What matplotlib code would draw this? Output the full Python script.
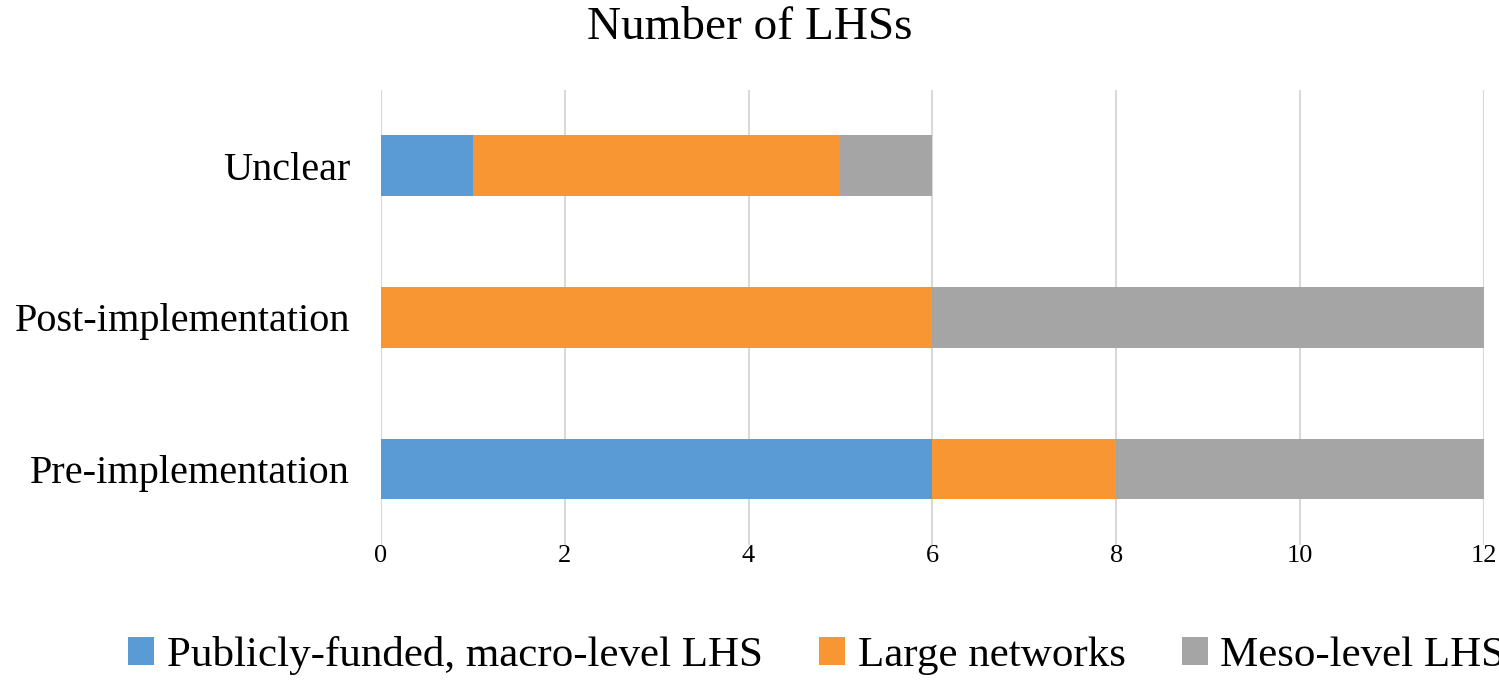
import matplotlib
matplotlib.use("Agg")
import matplotlib.pyplot as plt
import numpy as np

categories = ["Pre-implementation", "Post-implementation", "Unclear"]
publicly = [6, 0, 1]
large = [2, 6, 4]
meso = [4, 6, 1]
series_names = ["Publicly-funded, macro-level LHS", "Large networks", "Meso-level LHS"]
colors = ["#5B9BD5", "#F79633", "#A5A5A5"]

plt.rcParams['font.family'] = ['Liberation Serif', 'DejaVu Serif']
fig = plt.figure(figsize=(14.99, 6.8), dpi=100)
ax = fig.add_axes([0.254, 0.199, 0.736, 0.669])
y = np.arange(len(categories))
left = np.zeros(len(categories))
for vals, name, c in zip([publicly, large, meso], series_names, colors):
    ax.barh(y, vals, left=left, height=0.4, color=c, label=name, zorder=3)
    left += np.array(vals)
ax.set_xlim(0, 12)
ax.set_ylim(-0.5, 2.5)
ax.set_xticks(range(0, 13, 2))
ax.set_yticks(y)
ax.set_yticklabels(categories, fontsize=29)
ax.tick_params(axis='x', labelsize=19, length=0, pad=0)
ax.tick_params(axis='y', length=0, pad=22)
ax.grid(axis='x', color='#D9D9D9', linewidth=1.5, zorder=0)
for s in ax.spines.values():
    s.set_visible(False)
fig.suptitle("Number of LHSs", fontsize=34, y=0.99)
fig.legend(loc='lower center', bbox_to_anchor=(0.545, -0.05), ncol=3, frameon=False,
           fontsize=31, handlelength=0.6, handleheight=0.6, handletextpad=0.3, columnspacing=1.3)
fig.savefig("out.png", dpi=100)
